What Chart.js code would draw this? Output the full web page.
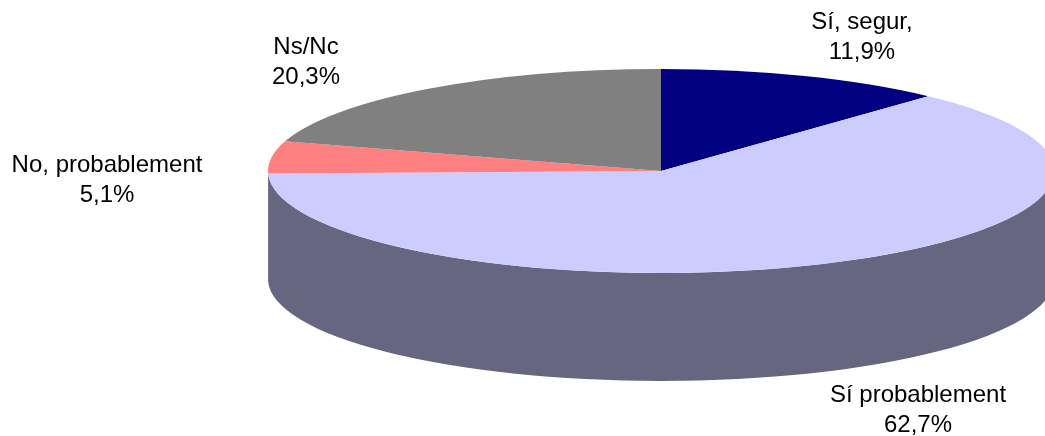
<!DOCTYPE html>
<html>
<head>
<meta charset="utf-8">
<title>Sí, segur</title>
<script src="https://cdn.jsdelivr.net/npm/chart.js@4"></script>
<style>
    html, body { margin: 0; padding: 0; background: #fff; }
    canvas { display: block; }
</style>
</head>
<body>
<canvas id="pieChart" width="1045" height="436"></canvas>
<script>
const categories = ['Sí, segur,', 'Sí probablement', 'No, probablement', 'Ns/Nc'];
const values = [11.9, 62.7, 5.1, 20.3];
const topColors = ['#000080', '#ccccff', '#ff8080', '#808080'];
const sideColors = ['#000040', '#666680', '#804040', '#404040'];

// where the squashed pie sits on the page
const pie = { x: 661, y: 171, rx: 393, ry: 102, depth: 108 };
// label centres, one per category
const labelSpots = [[862, 22], [918, 395], [107, 165], [306, 47]];
const lineGap = 30;

const pie3d = {
    id: 'pie3d',
    beforeDatasetsDraw(chart) {
        const ctx = chart.ctx;
        const slices = chart.getDatasetMeta(0).data;
        const r = slices[0].outerRadius;
        const drop = pie.depth * r / pie.ry;
        ctx.save();
        ctx.translate(pie.x, pie.y);
        ctx.scale(pie.rx / r, pie.ry / r);
        ctx.translate(-slices[0].x, -slices[0].y);
        // only the front half of the rim can be seen (canvas angles 0 to PI)
        slices.forEach((a, i) => {
            const from = Math.max(a.startAngle, 0);
            const to = Math.min(a.endAngle, Math.PI);
            if (from >= to) return;
            ctx.beginPath();
            ctx.arc(a.x, a.y + drop, r, from, to);
            ctx.arc(a.x, a.y, r, to, from, true);
            ctx.closePath();
            ctx.fillStyle = sideColors[i];
            ctx.fill();
        });
    },
    afterDatasetsDraw(chart) {
        chart.ctx.restore();
    },
    afterDraw(chart) {
        const ctx = chart.ctx;
        ctx.save();
        ctx.font = '24px "Liberation Sans", Arial, sans-serif';
        ctx.fillStyle = '#000';
        ctx.textAlign = 'center';
        ctx.textBaseline = 'middle';
        categories.forEach((name, i) => {
            const [x, y] = labelSpots[i];
            ctx.fillText(name, x, y);
            ctx.fillText(values[i].toFixed(1).replace('.', ',') + '%', x, y + lineGap);
        });
        ctx.restore();
    }
};

new Chart(document.getElementById('pieChart').getContext('2d'), {
    type: 'pie',
    data: {
        labels: categories,
        datasets: [{
            data: values,
            backgroundColor: topColors,
            borderWidth: 0,
            clip: false
        }]
    },
    options: {
        responsive: false,
        animation: false,
        events: [],
        plugins: {
            legend: { display: false },
            tooltip: { enabled: false }
        }
    },
    plugins: [pie3d]
});
</script>
</body>
</html>
